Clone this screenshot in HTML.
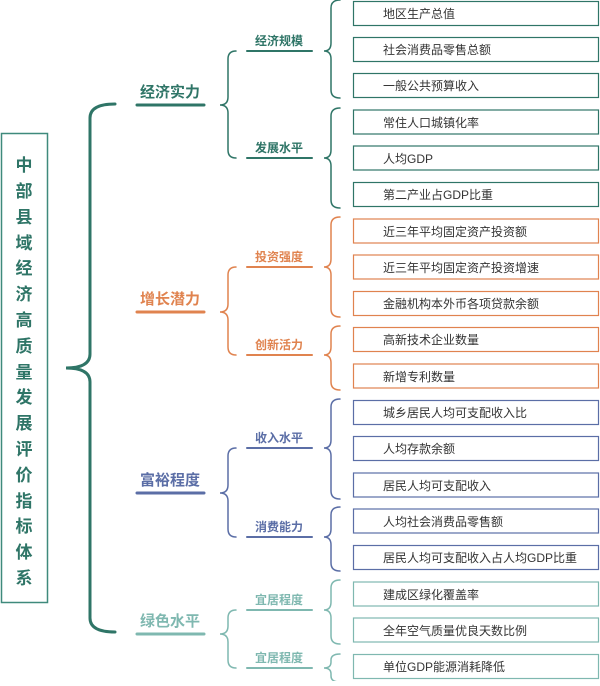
<!DOCTYPE html>
<html><head><meta charset="utf-8"><style>
body{margin:0;background:#fff;width:600px;height:681px;overflow:hidden;font-family:"Liberation Sans","Noto Sans CJK SC",sans-serif;}
svg text{font-family:"Liberation Sans","Noto Sans CJK SC",sans-serif;}
</style></head><body>
<svg width="600" height="681" viewBox="0 0 600 681" xmlns="http://www.w3.org/2000/svg">
<g fill="none" stroke-linecap="round">
<!-- left box -->
<rect x="1.5" y="133.5" width="46" height="469" stroke="#3f8a7c" stroke-width="1.5" fill="#fff"/>
<!-- big brace -->
<path d="M115 104 Q90 104 90 118 L90 354 Q90 368 66 368 Q90 368 90 382 L90 618 Q90 632 115 632" stroke="#2f7567" stroke-width="3"/>
<!-- sub braces -->
<path d="M236 51 Q228 51 228 59 L228 97 Q228 105 220 105 Q228 105 228 113 L228 150 Q228 158 236 158" stroke="#2f7567" stroke-width="1.5"/>
<path d="M236 267 Q228 267 228 275 L228 304 Q228 312 220 312 Q228 312 228 320 L228 347 Q228 355 236 355" stroke="#e0834f" stroke-width="1.5"/>
<path d="M236 448 Q228 448 228 456 L228 485 Q228 493 220 493 Q228 493 228 501 L228 529 Q228 537 236 537" stroke="#5b6ea6" stroke-width="1.5"/>
<path d="M236 610 Q228 610 228 618 L228 626 Q228 634 220 634 Q228 634 228 642 L228 660 Q228 668 236 668" stroke="#7fb8b0" stroke-width="1.5"/>
<!-- right braces -->
<path d="M340 0 Q331 0 331 8 L331 43 Q331 51 324 51 Q331 51 331 59 L331 90 Q331 98 340 98" stroke="#2f7567" stroke-width="1.5"/>
<path d="M340 108 Q331 108 331 116 L331 150 Q331 158 324 158 Q331 158 331 166 L331 200 Q331 208 340 208" stroke="#2f7567" stroke-width="1.5"/>
<path d="M340 217 Q331 217 331 225 L331 259 Q331 267 324 267 Q331 267 331 275 L331 309 Q331 317 340 317" stroke="#e0834f" stroke-width="1.5"/>
<path d="M340 326 Q331 326 331 334 L331 347 Q331 355 324 355 Q331 355 331 363 L331 382 Q331 390 340 390" stroke="#e0834f" stroke-width="1.5"/>
<path d="M340 399 Q331 399 331 407 L331 440 Q331 448 324 448 Q331 448 331 456 L331 491 Q331 499 340 499" stroke="#5b6ea6" stroke-width="1.5"/>
<path d="M340 507 Q331 507 331 515 L331 529 Q331 537 324 537 Q331 537 331 545 L331 563 Q331 571 340 571" stroke="#5b6ea6" stroke-width="1.5"/>
<path d="M340 580 Q331 580 331 588 L331 602 Q331 610 324 610 Q331 610 331 618 L331 636 Q331 644 340 644" stroke="#7fb8b0" stroke-width="1.5"/>
<path d="M340 654 Q331 654 331 660 L331 662 Q331 668 324 668 Q331 668 331 674 L331 676 Q331 682 340 682" stroke="#7fb8b0" stroke-width="1.5"/>
<!-- underlines main -->
<line x1="137" y1="105" x2="204" y2="105" stroke="#2f7567" stroke-width="3"/>
<line x1="137" y1="312" x2="204" y2="312" stroke="#e0834f" stroke-width="3"/>
<line x1="137" y1="493" x2="204" y2="493" stroke="#5b6ea6" stroke-width="3"/>
<line x1="137" y1="634" x2="204" y2="634" stroke="#7fb8b0" stroke-width="3"/>
<!-- underlines sub -->
<g stroke-width="2">
<line x1="247" y1="51" x2="312" y2="51" stroke="#2f7567"/>
<line x1="247" y1="158" x2="312" y2="158" stroke="#2f7567"/>
<line x1="247" y1="267" x2="312" y2="267" stroke="#e0834f"/>
<line x1="247" y1="355" x2="312" y2="355" stroke="#e0834f"/>
<line x1="247" y1="448" x2="312" y2="448" stroke="#5b6ea6"/>
<line x1="247" y1="537" x2="312" y2="537" stroke="#5b6ea6"/>
<line x1="247" y1="610" x2="312" y2="610" stroke="#7fb8b0"/>
<line x1="247" y1="668" x2="312" y2="668" stroke="#7fb8b0"/>
</g>
<!-- boxes -->
<g stroke-width="1.2">
<rect x="353.5" y="1.5" width="245" height="24" stroke="#2f7567"/>
<rect x="353.5" y="37.5" width="245" height="24" stroke="#2f7567"/>
<rect x="353.5" y="73.5" width="245" height="24" stroke="#2f7567"/>
<rect x="353.5" y="110" width="245" height="24" stroke="#2f7567"/>
<rect x="353.5" y="146" width="245" height="24" stroke="#2f7567"/>
<rect x="353.5" y="182.5" width="245" height="24" stroke="#2f7567"/>
<rect x="353.5" y="219" width="245" height="24" stroke="#e0834f"/>
<rect x="353.5" y="255" width="245" height="24" stroke="#e0834f"/>
<rect x="353.5" y="291.5" width="245" height="24" stroke="#e0834f"/>
<rect x="353.5" y="327.5" width="245" height="24" stroke="#e0834f"/>
<rect x="353.5" y="364" width="245" height="24" stroke="#e0834f"/>
<rect x="353.5" y="400.5" width="245" height="24" stroke="#5b6ea6"/>
<rect x="353.5" y="436.5" width="245" height="24" stroke="#5b6ea6"/>
<rect x="353.5" y="473" width="245" height="24" stroke="#5b6ea6"/>
<rect x="353.5" y="509" width="245" height="24" stroke="#5b6ea6"/>
<rect x="353.5" y="545.5" width="245" height="24" stroke="#5b6ea6"/>
<rect x="353.5" y="582" width="245" height="24" stroke="#7fb8b0"/>
<rect x="353.5" y="618" width="245" height="24" stroke="#7fb8b0"/>
<rect x="353.5" y="654.5" width="245" height="24" stroke="#7fb8b0"/>
</g>
</g>
<!-- left title -->
<g fill="#2f7567" font-size="17" font-weight="bold" text-anchor="middle">
<text x="24" y="171">中</text><text x="24" y="197">部</text><text x="24" y="223">县</text><text x="24" y="249">域</text><text x="24" y="274">经</text><text x="24" y="300">济</text><text x="24" y="326">高</text><text x="24" y="352">质</text><text x="24" y="378">量</text><text x="24" y="403">发</text><text x="24" y="429">展</text><text x="24" y="455">评</text><text x="24" y="481">价</text><text x="24" y="507">指</text><text x="24" y="532">标</text><text x="24" y="558">体</text><text x="24" y="584">系</text>
</g>
<!-- main labels -->
<g font-size="15" font-weight="bold" text-anchor="middle">
<text x="170" y="97" fill="#2f7567">经济实力</text>
<text x="170" y="304" fill="#e0834f">增长潜力</text>
<text x="170" y="485" fill="#5b6ea6">富裕程度</text>
<text x="170" y="626" fill="#7fb8b0">绿色水平</text>
</g>
<g font-size="12" font-weight="bold" text-anchor="middle">
<text x="279" y="45" fill="#2f7567">经济规模</text>
<text x="279" y="152" fill="#2f7567">发展水平</text>
<text x="279" y="261" fill="#e0834f">投资强度</text>
<text x="279" y="349" fill="#e0834f">创新活力</text>
<text x="279" y="442" fill="#5b6ea6">收入水平</text>
<text x="279" y="531" fill="#5b6ea6">消费能力</text>
<text x="279" y="604" fill="#7fb8b0">宜居程度</text>
<text x="279" y="662" fill="#7fb8b0">宜居程度</text>
</g>
<g font-size="12" fill="#333">
<text x="383" y="18">地区生产总值</text>
<text x="383" y="54">社会消费品零售总额</text>
<text x="383" y="90">一般公共预算收入</text>
<text x="383" y="127">常住人口城镇化率</text>
<text x="383" y="163">人均GDP</text>
<text x="383" y="199">第二产业占GDP比重</text>
<text x="383" y="236">近三年平均固定资产投资额</text>
<text x="383" y="272">近三年平均固定资产投资增速</text>
<text x="383" y="308">金融机构本外币各项贷款余额</text>
<text x="383" y="344">高新技术企业数量</text>
<text x="383" y="381">新增专利数量</text>
<text x="383" y="417">城乡居民人均可支配收入比</text>
<text x="383" y="453">人均存款余额</text>
<text x="383" y="490">居民人均可支配收入</text>
<text x="383" y="526">人均社会消费品零售额</text>
<text x="383" y="562">居民人均可支配收入占人均GDP比重</text>
<text x="383" y="599">建成区绿化覆盖率</text>
<text x="383" y="635">全年空气质量优良天数比例</text>
<text x="383" y="671">单位GDP能源消耗降低</text>
</g>
</svg>
</body></html>
